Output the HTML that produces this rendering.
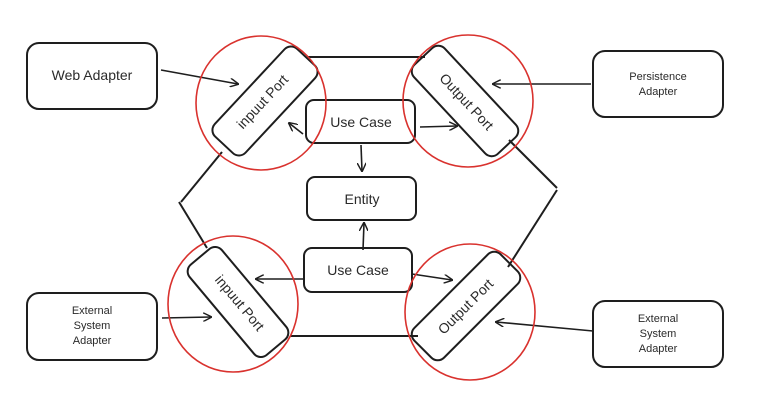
<!DOCTYPE html>
<html><head><meta charset="utf-8"><style>
html,body{margin:0;padding:0;background:#fff;}
svg{display:block;}
text{font-family:"Liberation Sans",sans-serif;fill:#2a2a2a;}
</style></head><body>
<svg width="782" height="403" viewBox="0 0 782 403" xmlns="http://www.w3.org/2000/svg">
<defs>
<marker id="a" viewBox="0 0 10 10" refX="9" refY="5" markerWidth="9" markerHeight="9" orient="auto" markerUnits="userSpaceOnUse">
<path d="M0,0 L10,5 L0,10" fill="none" stroke="#1e1e1e" stroke-width="1.6"/>
</marker>
</defs>
<g fill="none" stroke="#1e1e1e" stroke-width="2">
<rect x="27" y="43" width="130" height="66" rx="12"/>
<rect x="593" y="51" width="130" height="66" rx="12"/>
<rect x="27" y="293" width="130" height="67" rx="12"/>
<rect x="593" y="301" width="130" height="66" rx="12"/>
<rect x="306" y="100" width="109" height="43" rx="8"/>
<rect x="307" y="177" width="109" height="43" rx="8"/>
<rect x="304" y="248" width="108" height="44" rx="8"/>
<rect x="-60" y="-21" width="120" height="42" rx="9" transform="translate(265,101) rotate(-47)"/>
<rect x="-61" y="-21" width="122" height="42" rx="9" transform="translate(465,101) rotate(47)"/>
<rect x="-59" y="-21" width="118" height="42" rx="9" transform="translate(238,302) rotate(50)"/>
<rect x="-61" y="-21" width="122" height="42" rx="9" transform="translate(466,306) rotate(-45)"/>
<path d="M308,57 L425,57"/>
<path d="M290,336 L418,336"/>
<path d="M222,152 L181,202"/>
<path d="M179,202 L207,248"/>
<path d="M509,140 L557,188"/>
<path d="M557,190 L508,267"/>
</g>
<g fill="none" stroke="#1e1e1e" stroke-width="1.6" marker-end="url(#a)">
<path d="M161,70 L238,84"/>
<path d="M591,84 L493,84"/>
<path d="M303,134 L289,123"/>
<path d="M420,127 L457,126"/>
<path d="M361,145 L362,171"/>
<path d="M363,250 L364,223"/>
<path d="M303,279 L256,279"/>
<path d="M412,274 L452,280"/>
<path d="M162,318 L211,317"/>
<path d="M593,331 L496,322"/>
</g>
<g fill="none" stroke="#d9322e" stroke-width="1.6">
<ellipse cx="261" cy="103" rx="65" ry="67"/>
<ellipse cx="468" cy="101" rx="65" ry="66"/>
<ellipse cx="233" cy="304" rx="65" ry="68"/>
<ellipse cx="470" cy="312" rx="65" ry="68"/>
</g>
<g text-anchor="middle">
<text x="92" y="80" font-size="14">Web Adapter</text>
<text x="658" y="80" font-size="11">Persistence</text>
<text x="658" y="95" font-size="11">Adapter</text>
<text x="92" y="314" font-size="11">External</text>
<text x="92" y="329" font-size="11">System</text>
<text x="92" y="344" font-size="11">Adapter</text>
<text x="658" y="322" font-size="11">External</text>
<text x="658" y="337" font-size="11">System</text>
<text x="658" y="352" font-size="11">Adapter</text>
<text x="361" y="127" font-size="14">Use Case</text>
<text x="362" y="204" font-size="14">Entity</text>
<text x="358" y="275" font-size="14">Use Case</text>
<text font-size="14" transform="translate(266,105) rotate(-47)">inpuut Port</text>
<text font-size="14" transform="translate(463,105) rotate(47)">Output Port</text>
<text font-size="14" transform="translate(236,306) rotate(50)">inpuut Port</text>
<text font-size="14" transform="translate(469,310) rotate(-45)">Output Port</text>
</g>
</svg>
</body></html>
